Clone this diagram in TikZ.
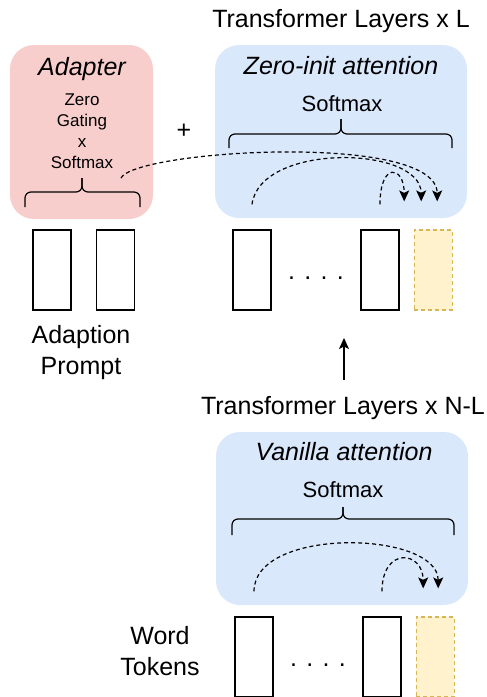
\documentclass[tikz,border=0pt]{standalone}
\usepackage{fontspec}
\setmainfont{Liberation Sans}
\usetikzlibrary{arrows.meta,positioning}
\definecolor{AdapterBackground}{HTML}{F8CECC}
\definecolor{AttentionBackground}{HTML}{DAE8FC}
\definecolor{NewTokenBackground}{HTML}{FFF2CC}
\definecolor{NewTokenBorder}{HTML}{D6B656}
\tikzstyle{AttentionBox} =[fill=AttentionBackground,rounded corners=24pt,minimum width=252pt,minimum height=173pt]
\tikzstyle{AdapterBox} =[fill=AdapterBackground,rounded corners=24pt,minimum width=143pt,minimum height=174pt]
\tikzstyle{TokenNode} =[draw,line width=1.2pt,minimum width=38pt,minimum height=80pt,inner sep=0]
\tikzstyle{NewTokenNode} =[TokenNode,draw=NewTokenBorder,fill=NewTokenBackground,dash pattern=on 4pt off 3pt]
\tikzstyle{LabelText} =[inner sep=0,font=\fontsize{25}{31}\selectfont,align=center]
\tikzstyle{TitleText} =[LabelText,font=\fontsize{25}{31}\selectfont\itshape]
\tikzstyle{SoftmaxText} =[inner sep=0,font=\fontsize{22}{25}\selectfont]
\tikzstyle{GateText} =[inner sep=0,font=\fontsize{17}{21}\selectfont,align=center]
\tikzstyle{Curly} =[line width=1.2pt,rounded corners=6pt]
\tikzstyle{AttnFlow} =[line width=1.2pt,dash pattern=on 4pt off 3pt,-{Stealth[length=11pt,width=10pt,inset=2.5pt]}]

\begin{document}
\begin{tikzpicture}[x=1pt,y=-1pt]
    \useasboundingbox (0,0) rectangle (487,697);

    % upper part: adapter + zero-init attention
    \node[AdapterBox](Adapter) at (81.5,132){};
    \node[AttentionBox](Zero-Init) at (341,131.5){};
    \node[LabelText,anchor=base](Layers-L) at (341,27){Transformer Layers x L};
    \node[TitleText,anchor=base](Adapter-Title) at (82,75){Adapter};
    \node[GateText,anchor=base](Gating) at (82,168){Zero\\Gating\\x\\Softmax};
    \node[TitleText,anchor=base](Zero-Init-Title) at (341,74){Zero-init attention};
    \node[SoftmaxText,anchor=base](Zero-Init-Softmax) at (342,111){Softmax};
    \node[LabelText](Plus) at (184,131){+};
    \draw[Curly] (25,207) |- (82,192) -- (82,178);
    \draw[Curly] (140,207) |- (82,192) -- (82,178);
    \draw[Curly] (229,148) |- (341,134) -- (341,119);
    \draw[Curly] (452,148) |- (341,134) -- (341,119);

    % tokens of the upper layers
    \node[TokenNode](Prompt-1) at (52,270){};
    \node[TokenNode,right=24pt of Prompt-1](Prompt-2){};
    \node[TokenNode](Upper-First) at (252,270){};
    \node[TokenNode](Upper-Last) at (380,270){};
    \node[NewTokenNode,right=14pt of Upper-Last](Upper-New){};
    \node[LabelText,anchor=base](Upper-Dots) at (316,279){. . . .};
    \node[LabelText,anchor=base](Prompt-Label) at (81,374){Adaption\\Prompt};

    \coordinate (Gate-Out) at (121,178);
    \coordinate (Upper-First-Out) at ([yshift=25pt]Upper-First.north);
    \coordinate (Upper-Last-Out) at ([yshift=25pt]Upper-Last.north);
    \coordinate (Upper-In-1) at ([xshift=-29pt,yshift=28pt]Upper-New.north);
    \coordinate (Upper-In-2) at ([xshift=-12pt,yshift=28pt]Upper-New.north);
    \coordinate (Upper-In-3) at ([xshift=4pt,yshift=28pt]Upper-New.north);
    \draw[AttnFlow] (Gate-Out) .. controls +(14,-28) and +(0,-70) .. (Upper-In-3);
    \draw[AttnFlow] (Upper-First-Out) .. controls +(8,-62) and +(0,-56) .. (Upper-In-2);
    \draw[AttnFlow] (Upper-Last-Out) .. controls +(0,-43) and +(0,-36) .. (Upper-In-1);

    % lower part: vanilla attention
    \node[LabelText,anchor=base](Layers-NL) at (343,414){Transformer Layers x N-L};
    \coordinate (Lift-Start) at (344,380);
    \coordinate (Lift-End) at (344,338);
    \draw[line width=1.2pt,-{Stealth[length=11pt,width=10pt,inset=2.5pt]}] (Lift-Start) -- (Lift-End);
    \node[AttentionBox](Vanilla) at (342,518.5){};
    \node[TitleText,anchor=base](Vanilla-Title) at (344,460){Vanilla attention};
    \node[SoftmaxText,anchor=base](Vanilla-Softmax) at (343,497){Softmax};
    \draw[Curly] (232,535) |- (343,519) -- (343,507);
    \draw[Curly] (454,535) |- (343,519) -- (343,507);

    \node[TokenNode](Lower-First) at (254,657){};
    \node[TokenNode](Lower-Last) at (382,657){};
    \node[NewTokenNode,right=14pt of Lower-Last](Lower-New){};
    \node[LabelText,anchor=base](Lower-Dots) at (318,666){. . . .};
    \node[LabelText,anchor=base](Word-Label) at (160,675){Word\\Tokens};

    \coordinate (Lower-First-Out) at ([yshift=25pt]Lower-First.north);
    \coordinate (Lower-Last-Out) at ([yshift=25pt]Lower-Last.north);
    \coordinate (Lower-In-1) at ([xshift=-12pt,yshift=28pt]Lower-New.north);
    \coordinate (Lower-In-2) at ([xshift=3pt,yshift=28pt]Lower-New.north);
    \draw[AttnFlow] (Lower-First-Out) .. controls +(0,-65) and +(0,-58) .. (Lower-In-2);
    \draw[AttnFlow] (Lower-Last-Out) .. controls +(0,-45) and +(0,-38) .. (Lower-In-1);
\end{tikzpicture}
\end{document}
